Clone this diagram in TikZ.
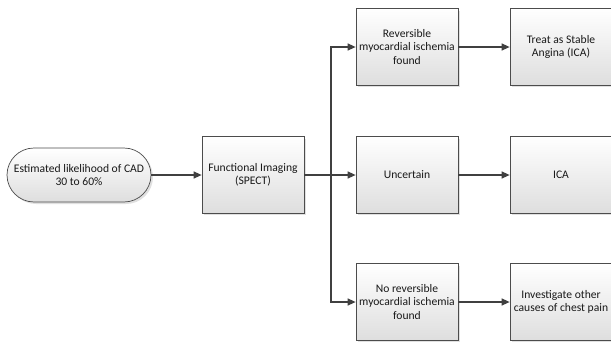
\documentclass[tikz,border=0pt]{standalone}
\usepackage{fontspec}
\setmainfont{Carlito}
\usetikzlibrary{arrows.meta,positioning}
\begin{document}
\begin{tikzpicture}[x=1pt,y=-1pt,
  box/.style={draw=black!70, line width=0.7pt, top color=white, bottom color=black!13,
    minimum width=102pt, minimum height=77pt, align=center, inner sep=2pt,
    font=\fontsize{11.6}{13.4}\selectfont, text=black!90},
  startbox/.style={draw=black!70, line width=0.7pt, top color=white, bottom color=black!13,
    rounded corners=27pt, minimum width=144pt, minimum height=54pt, align=center,
    font=\fontsize{11.6}{13.4}\selectfont, text=black!90},
  arr/.style={draw=black!75, line width=1.3pt, -{Triangle[length=8pt,width=7pt]}},
  ln/.style={draw=black!75, line width=1.3pt}]
\useasboundingbox (0,0) rectangle (611,343);
% shadows
\foreach \cx/\cy in {253/175, 407/47, 407/175, 407/302, 561/47, 561/175, 561/302}{
  \fill[black!12] (\cx-49,\cy-36) rectangle (\cx+53,\cy+40);
}
\fill[black!12, rounded corners=27pt] (9,150) rectangle (153,204);
\node[startbox] (start) at (79,175) {Estimated likelihood of CAD\\30 to 60\%};
\node[box] (spect) at (253,175) {Functional Imaging\\(SPECT)};
\node[box] (rev) at (407,47) {Reversible\\myocardial ischemia\\found};
\node[box] (unc) at (407,175) {Uncertain};
\node[box] (norev) at (407,302) {No reversible\\myocardial ischemia\\found};
\node[box] (treat) at (561,47) {Treat as Stable\\Angina (ICA)};
\node[box] (ica) at (561,175) {ICA};
\node[box] (inv) at (561,302) {Investigate other\\causes of chest pain};
\coordinate (split) at (331,175);
\draw[arr] (start) -- (spect);
\draw[ln] (spect.east) -- (split);
\draw[arr] (split) -- (unc);
\draw[arr] (split) |- (rev.west);
\draw[arr] (split) |- (norev.west);
\draw[arr] (rev) -- (treat);
\draw[arr] (unc) -- (ica);
\draw[arr] (norev) -- (inv);
\end{tikzpicture}
\end{document}
